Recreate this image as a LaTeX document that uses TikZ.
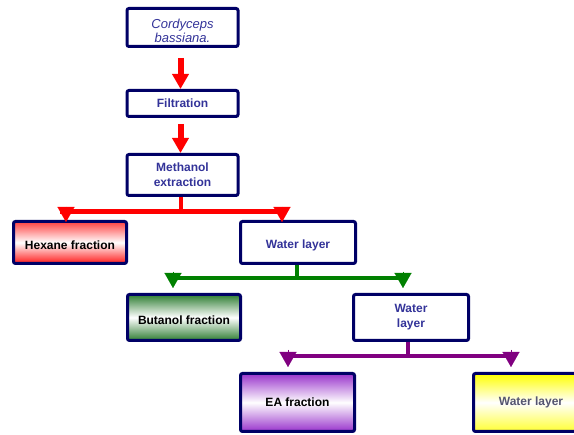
\documentclass[tikz,border=0pt]{standalone}
\usepackage{fontspec}
\setmainfont{Liberation Sans}
\usetikzlibrary{arrows.meta}
\definecolor{navy}{HTML}{000066}
\definecolor{txtblue}{HTML}{333399}
\definecolor{txtgrey}{HTML}{555570}
\definecolor{dgreen}{HTML}{008000}
\definecolor{dpurple}{HTML}{800080}
\definecolor{lpurple}{HTML}{9933CC}
\definecolor{lgreen}{HTML}{2E7D32}
\newcommand{\lowered}[1]{\raisebox{-3pt}[\height][\depth]{#1}}
\tikzset{
  box/.style={draw=navy, line width=3pt, rounded corners=2pt, align=center,
    inner sep=0pt, font=\fontsize{12}{15}\selectfont\bfseries, text=txtblue},
  downarrow/.style={draw=red, line width=6pt,
    -{Triangle[width=16pt,length=15pt]}},
  bar/.style={line width=#1},
  head/.style={line width=0.1pt, -{Triangle[width=17pt,length=15pt]}},
}
\begin{document}
\begin{tikzpicture}[x=1pt,y=-1pt]
\useasboundingbox (0,0) rectangle (574,435);
\fill[white] (0,0) rectangle (574,435);

% nodes
\node[box, minimum width=111pt, minimum height=38pt, font=\fontsize{13}{14}\selectfont\itshape]
  (cb) at (182.5,27.5) {\lowered{Cordyceps}\\\lowered{bassiana.}};
\node[box, minimum width=111pt, minimum height=26pt] (filt) at (182.5,103.5) {Filtration};
\node[box, minimum width=111pt, minimum height=41pt] (meth) at (182.5,175) {Methanol\\extraction};
\node[box, minimum width=113pt, minimum height=42pt, text=black,
  top color=red!75, bottom color=red!90, middle color=white] (hex) at (70,242.5) {\lowered{Hexane fraction}};
\node[box, minimum width=115pt, minimum height=42pt] (w1) at (298,242.5) {\lowered{Water layer}};
\node[box, minimum width=113pt, minimum height=46pt, text=black,
  top color=lgreen, bottom color=lgreen, middle color=white] (but) at (184,317.5) {\lowered{Butanol fraction}};
\node[box, minimum width=115pt, minimum height=46pt] (w2) at (411,317.5) {Water\\layer};
\node[box, minimum width=114pt, minimum height=58pt, text=black,
  top color=lpurple, bottom color=lpurple, middle color=white] (ea) at (297.5,402.5) {EA fraction};
\node[box, minimum width=115pt, minimum height=58pt, text=txtgrey,
  top color=yellow, bottom color=yellow!80, middle color=white] (w3) at (531,402.5) {Water layer};

% vertical red arrows
\draw[downarrow] ([xshift=-2pt,yshift=-10pt]cb.south) -- ([xshift=-2pt]filt.north);
\draw[downarrow] ([xshift=-2pt,yshift=-6pt]filt.south) -- ([xshift=-2pt]meth.north);

% red branch
\coordinate (r0) at (181,212);
\coordinate (rl) at (66,212);
\coordinate (rr) at (282,212);
\draw[red, bar=4pt] (meth.south -| r0) -- (r0);
\draw[red, bar=5pt] ([xshift=-6pt]rl) -- ([xshift=1pt]rr);
\draw[red, fill=red, head] ([yshift=5pt]rl) -- ([yshift=-10pt]rl);
\draw[red, fill=red, head] ([yshift=5pt]rr) -- ([yshift=-10pt]rr);

% green branch
\coordinate (g0) at (297,278);
\coordinate (gl) at (173,278);
\coordinate (gr) at (403,278);
\draw[dgreen, bar=4pt] (w1.south -| g0) -- (g0);
\draw[dgreen, bar=4.5pt] ([xshift=-4pt]gl) -- ([xshift=1pt]gr);
\draw[dgreen, fill=dgreen, head] ([yshift=6pt]gl) -- ([yshift=-10pt]gl);
\draw[dgreen, fill=dgreen, head] ([yshift=6pt]gr) -- ([yshift=-10pt]gr);

% purple branch
\coordinate (p0) at (408,356);
\coordinate (pl) at (288,356);
\coordinate (pr) at (511,356);
\draw[dpurple, bar=4pt] (w2.south -| p0) -- (p0);
\draw[dpurple, bar=4.5pt] ([xshift=-3pt]pl) -- ([xshift=1pt]pr);
\draw[dpurple, fill=dpurple, head] ([yshift=6pt]pl) -- ([yshift=-11pt]pl);
\draw[dpurple, fill=dpurple, head] ([yshift=6pt]pr) -- ([yshift=-11pt]pr);
\end{tikzpicture}
\end{document}
